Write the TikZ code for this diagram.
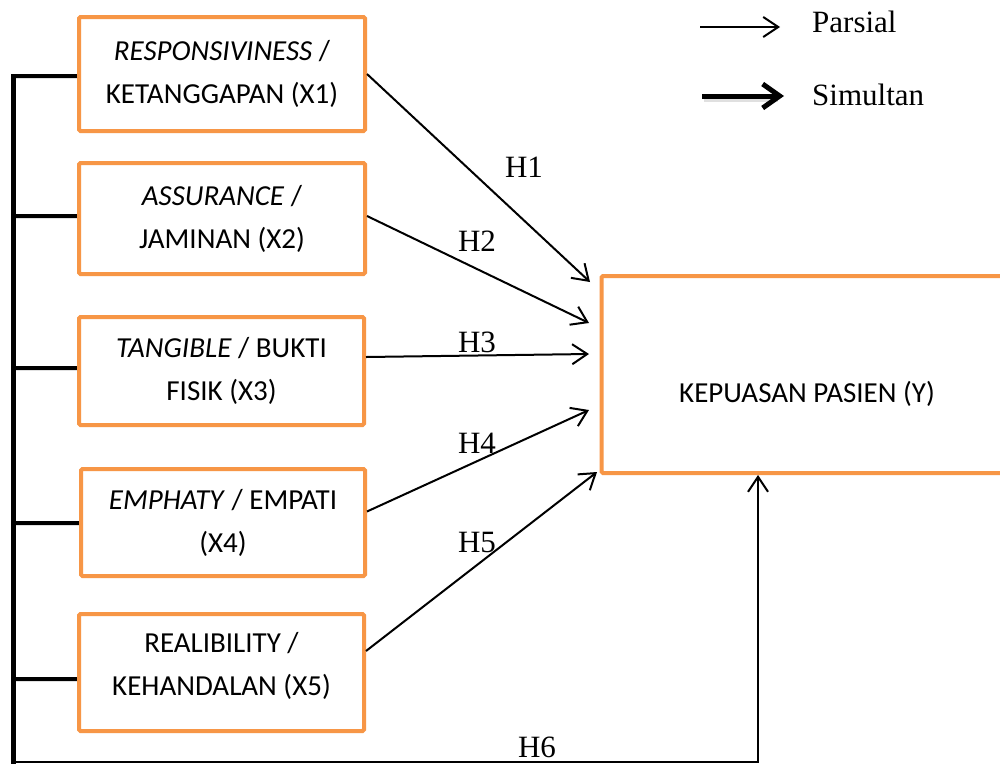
\documentclass[tikz,border=0pt]{standalone}
\usepackage{fontspec}
\setmainfont{Liberation Serif}
\newfontfamily\calfont{Carlito}
\usetikzlibrary{arrows.meta,calc}
\definecolor{boxorange}{HTML}{F79646}
\begin{document}
\begin{tikzpicture}[x=1pt,y=-1pt,
  varbox/.style={draw=boxorange, line width=4pt, rounded corners=1.5pt, align=center,
    inner sep=0pt, font=\calfont\fontsize{29}{43}\selectfont, anchor=center},
  boxtext/.style={font=\calfont\fontsize{29}{43}\selectfont, inner sep=0pt},
  partial/.style={line width=2pt, -{Straight Barb[length=15pt,width=20pt]}},
  simul/.style={line width=5pt, -{Straight Barb[length=17pt,width=24pt]}},
  bracketline/.style={line width=4.5pt, line join=miter},
  shadowline/.style={line width=5pt, black!12},
  hlab/.style={font=\fontsize{31}{36}\selectfont, inner sep=0pt, anchor=base},
  leglab/.style={font=\fontsize{31}{36}\selectfont, inner sep=0pt, anchor=base west}
]
\useasboundingbox (0,0) rectangle (1000,763);
\fill[white] (0,0) rectangle (1000,763);

% variable boxes
\node[varbox, minimum width=286pt, minimum height=114pt] (X1) at (222,74)
  {\textit{RESPONSIVINESS} /\\KETANGGAPAN (X1)};
\node[varbox, minimum width=286pt, minimum height=111pt] (X2) at (222,218.5)
  {\textit{ASSURANCE} /\\JAMINAN (X2)};
\node[varbox, minimum width=285pt, minimum height=108pt] (X3) at (221.5,371)
  {\textit{TANGIBLE} / BUKTI\\FISIK (X3)};
\node[varbox, minimum width=284pt, minimum height=107pt] (X4) at (223,522.5)
  {\textit{EMPHATY} / EMPATI\\(X4)};
\node[varbox, minimum width=285pt, minimum height=117pt] (X5) at (221.5,672.5)
  {REALIBILITY /\\KEHANDALAN (X5)\\[-26pt]};
\node[varbox, minimum width=410.5pt, minimum height=197pt] (Y) at (806.75,374.5) {};
\node[boxtext, anchor=base] (Ylab) at (807,402) {KEPUASAN PASIEN (Y)};

% bracket
\coordinate (bk) at (13.5,0);
\coordinate (bbot) at (13.5,765);
\coordinate (t1) at ($(X1.west)+(0,2)$);
\coordinate (t2) at ($(X2.west)+(0,-2.5)$);
\coordinate (t3) at ($(X3.west)+(0,-3)$);
\coordinate (t4) at ($(X4.west)+(0,0.5)$);
\coordinate (t5) at ($(X5.west)+(0,6.5)$);
\begin{scope}[shift={(2.5,2.5)}]
  \draw[shadowline] (t1) -- (t1 -| bk) -- (bbot);
  \foreach \t in {t2,t3,t4,t5} \draw[shadowline] (\t -| bk) -- (\t);
\end{scope}
\draw[bracketline] (t1) -- (t1 -| bk) -- (bbot);
\foreach \t in {t2,t3,t4,t5} \draw[bracketline] (\t -| bk) -- (\t);

% partial arrows
\draw[partial] (X1.east) -- ($(Y.north west)+(-9.5,8)$);
\draw[partial] ($(X2.east)+(0,-2.5)$) -- ($(Y.north west)+(-10.5,49)$);
\draw[partial] ($(X3.east)+(0,-14)$) -- ($(Y.north west)+(-10.5,80)$);
\draw[partial] ($(X4.east)+(0,-11)$) -- ($(Y.north west)+(-10.5,136)$);
\draw[partial] ($(X5.east)+(0,-21.5)$) -- ($(Y.south west)+(-2.5,-3)$);

% simultaneous path
\coordinate (h6a) at (13.5,762);
\coordinate (h6b) at (758,762);
\draw[partial, line join=miter] (h6a) -- (h6b) -- (h6b |- Y.south);

% hypothesis labels
\node[hlab] (H1) at (524,177) {H1};
\node[hlab] (H2) at (477,251) {H2};
\node[hlab] (H3) at (477,352) {H3};
\node[hlab] (H4) at (477,453) {H4};
\node[hlab] (H5) at (477,552) {H5};
\node[hlab] (H6) at (537,757) {H6};

% legend
\coordinate (lp1) at (700,27);
\coordinate (lp2) at (780,27);
\draw[partial] (lp1) -- (lp2);
\node[leglab] (parsial) at (812,32) {Parsial};
\coordinate (ls1) at (702,96);
\coordinate (ls2) at (784,96);
\draw[black!12, line width=5pt] ($(ls1)+(2,3)$) -- ($(ls2)+(-6,3)$);
\draw[simul] (ls1) -- (ls2);
\node[leglab] (simultan) at (812,105) {Simultan};
\end{tikzpicture}
\end{document}
